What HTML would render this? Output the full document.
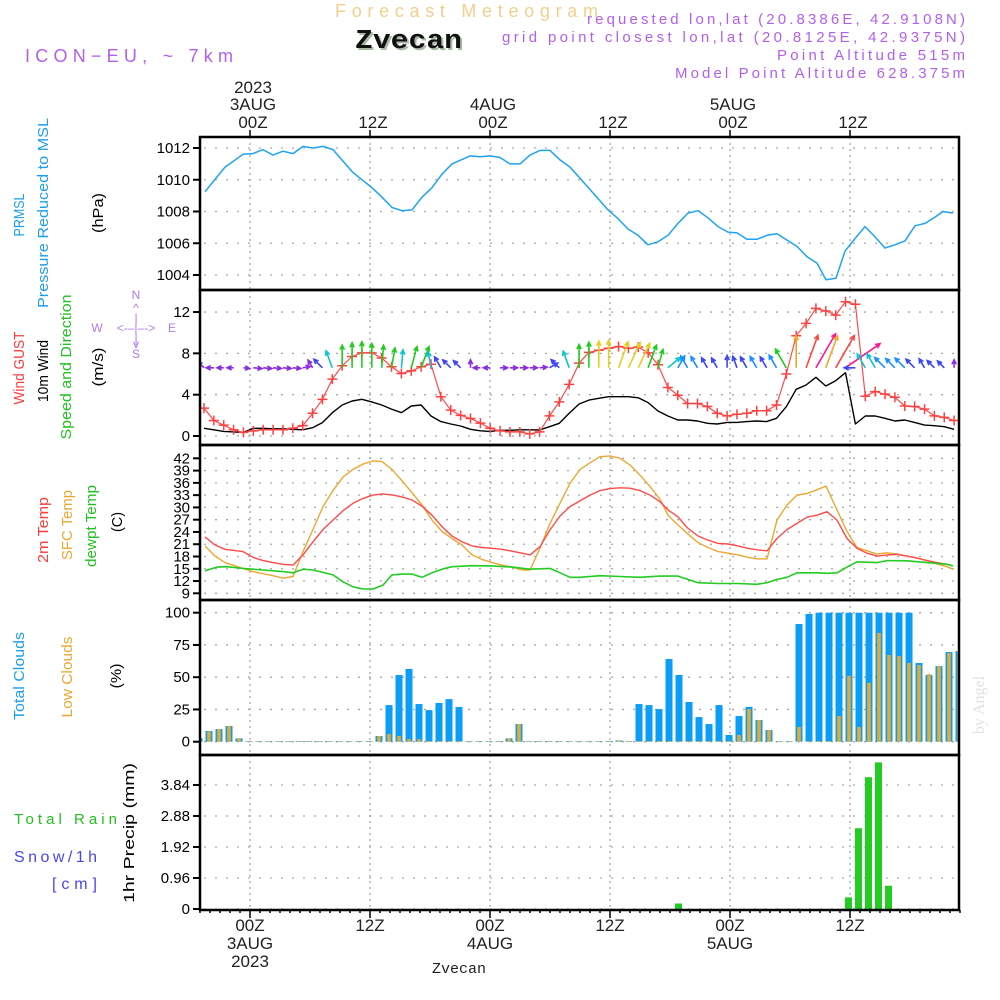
<!DOCTYPE html>
<html><head><meta charset="utf-8"><title>Forecast Meteogram Zvecan</title>
<style>
html,body{margin:0;padding:0;background:#fff;}
svg{display:block;font-family:"Liberation Sans",sans-serif;}
</style></head>
<body>
<svg id="chart" width="1000" height="1000" viewBox="0 0 1000 1000" xmlns="http://www.w3.org/2000/svg">
<defs><clipPath id="plotclip"><rect x="200" y="137" width="759" height="773"/></clipPath></defs>
<rect x="0" y="0" width="1000" height="1000" fill="#fff"/>
<text x="335" y="17" font-size="18" fill="#f2cf8e" textLength="263" lengthAdjust="spacing">Forecast Meteogram</text>
<text x="357" y="50" font-size="27" font-weight="bold" font-family="Liberation Mono, monospace" fill="#a9bba5" textLength="107" lengthAdjust="spacingAndGlyphs">Zvecan</text>
<text x="355" y="48" font-size="27" font-weight="bold" font-family="Liberation Mono, monospace" fill="#111" textLength="107" lengthAdjust="spacingAndGlyphs">Zvecan</text>
<text x="25" y="62" font-size="18" fill="#b25ff0" textLength="208" lengthAdjust="spacing">ICON−EU, ~ 7km</text>
<g fill="#b25ff0" font-size="15" text-anchor="end">
<text x="965" y="24" textLength="378" lengthAdjust="spacing">requested lon,lat (20.8386E, 42.9108N)</text>
<text x="965" y="42" textLength="463" lengthAdjust="spacing">grid point closest lon,lat (20.8125E, 42.9375N)</text>
<text x="965" y="60" textLength="188" lengthAdjust="spacing">Point Altitude 515m</text>
<text x="965" y="78" textLength="290" lengthAdjust="spacing">Model Point Altitude 628.375m</text>
</g>
<g font-size="15" text-anchor="middle">
<text transform="translate(24,215) rotate(-90)" fill="#1a9ef0" textLength="43" lengthAdjust="spacingAndGlyphs">PRMSL</text>
<text transform="translate(48,213) rotate(-90)" fill="#1a9ef0" textLength="190" lengthAdjust="spacingAndGlyphs">Pressure Reduced to MSL</text>
<text transform="translate(103,213) rotate(-90)" fill="#000" textLength="40" lengthAdjust="spacingAndGlyphs">(hPa)</text>
<text transform="translate(24,368) rotate(-90)" fill="#ff3b3b" textLength="73" lengthAdjust="spacingAndGlyphs">Wind GUST</text>
<text transform="translate(48,371) rotate(-90)" fill="#000" textLength="62" lengthAdjust="spacingAndGlyphs">10m Wind</text>
<text transform="translate(71,367) rotate(-90)" fill="#22c022" textLength="145" lengthAdjust="spacingAndGlyphs">Speed and Direction</text>
<text transform="translate(103,367) rotate(-90)" fill="#000" textLength="39" lengthAdjust="spacingAndGlyphs">(m/s)</text>
<text transform="translate(48,530) rotate(-90)" fill="#ff3b3b" textLength="66" lengthAdjust="spacingAndGlyphs">2m Temp</text>
<text transform="translate(72,525) rotate(-90)" fill="#eba830" textLength="70" lengthAdjust="spacingAndGlyphs">SFC Temp</text>
<text transform="translate(96,526) rotate(-90)" fill="#22c022" textLength="82" lengthAdjust="spacingAndGlyphs">dewpt Temp</text>
<text transform="translate(122,522) rotate(-90)" fill="#000" textLength="20" lengthAdjust="spacingAndGlyphs">(C)</text>
<text transform="translate(24,676) rotate(-90)" fill="#1a9ef0" textLength="88" lengthAdjust="spacingAndGlyphs">Total Clouds</text>
<text transform="translate(72,677) rotate(-90)" fill="#eba830" textLength="81" lengthAdjust="spacingAndGlyphs">Low Clouds</text>
<text transform="translate(121,676) rotate(-90)" fill="#000" textLength="25" lengthAdjust="spacingAndGlyphs">(%)</text>
<text transform="translate(134,833) rotate(-90)" fill="#000" textLength="140" lengthAdjust="spacingAndGlyphs">1hr Precip (mm)</text>
</g>
<text x="14" y="824" font-size="15" fill="#22c022" textLength="103" lengthAdjust="spacing">Total  Rain</text>
<text x="14" y="862" font-size="16" fill="#4646f0" textLength="83" lengthAdjust="spacing">Snow/1h</text>
<text x="52" y="889" font-size="16" fill="#4646f0" textLength="45" lengthAdjust="spacing">[cm]</text>
<g fill="#b07af0" font-size="12" text-anchor="middle">
<text x="136" y="299">N</text>
<text x="136" y="312">^</text>
<text x="136" y="322">|</text>
<text x="97" y="332">W</text>
<text x="136" y="332">&lt;-‒|‒-&gt;</text>
<text x="172" y="332">E</text>
<text x="136" y="343">|</text>
<text x="136" y="348">v</text>
<text x="136" y="358">S</text>
</g>
<text transform="translate(984,705) rotate(-90)" font-family="Liberation Serif, serif" font-size="16" fill="#dfe4df" text-anchor="middle">by Angel</text>
<text x="459" y="973" font-family="Liberation Mono, monospace" font-size="15" fill="#222" text-anchor="middle">Zvecan</text>
<g id="grid"></g>
<g id="marks" clip-path="url(#plotclip)"></g>
<g id="frames"></g>
<g id="axes"></g>
</svg>
<script>
// ---------- data ----------
const presHours = [-4.5,-2.5,-0.7,0.3,1.3,2.3,3.3,4.3,5.3,6.3,7.3,8.3,10.3,12.2,13.2,14.2,15.2,16.2,17.2,18.2,19.2,20.2,22,23,24,25,26,27,28,29,30,31,32,33,35.8,36.8,37.8,38.8,39.8,40.8,41.8,42.8,43.8,44.8,45.8,46.8,47.8,48.7,49.7,50.7,51.7,52.7,53.7,54.7,55.7,56.7,57.6,58.6,59.5,60.5,61.5,62.5,63.5,64.5,65.5,66.5,67.5,68.5,69.3,70.3];
const presValues = [1009.25,1010.8,1011.6,1011.65,1011.9,1011.55,1011.8,1011.65,1012.1,1012.0,1012.1,1011.9,1010.45,1009.5,1008.9,1008.25,1008.05,1008.1,1008.9,1009.5,1010.35,1011.0,1011.5,1011.45,1011.5,1011.4,1011.0,1011.0,1011.55,1011.85,1011.85,1011.25,1010.8,1010.1,1008.1,1007.55,1006.9,1006.5,1005.9,1006.1,1006.5,1007.25,1007.9,1008.05,1007.6,1007.05,1006.7,1006.65,1006.25,1006.25,1006.5,1006.6,1006.2,1005.8,1005.15,1004.75,1003.7,1003.8,1005.5,1006.3,1007.05,1006.4,1005.7,1005.9,1006.15,1007.1,1007.25,1007.65,1008.0,1007.9];
const presTicks = [1004,1006,1008,1010,1012];

const windStartHour = -4.6;
const windStepHours = 0.987;
const gustValues = [2.7,1.5,1.05,0.6,0.35,0.5,0.6,0.6,0.6,0.75,1.0,2.2,3.55,5.5,6.8,7.7,8.05,8.05,7.55,6.7,6.05,6.3,6.7,6.95,3.8,2.5,2.0,1.7,1.25,0.75,0.5,0.4,0.4,0.2,0.4,1.95,3.3,5.0,7.05,8.1,8.3,8.5,8.65,8.5,8.6,8.05,6.9,4.7,3.95,3.15,3.15,2.85,2.2,1.95,2.1,2.2,2.45,2.45,3.0,6.0,9.7,10.9,12.35,12.1,11.7,13.0,12.75,3.85,4.3,4.05,3.75,2.9,2.85,2.6,1.95,1.8,1.5];
const windValues = [0.75,0.6,0.45,0.4,0.35,0.75,0.75,0.7,0.7,0.65,0.6,0.8,1.3,2.26,3.0,3.39,3.55,3.3,3.0,2.6,2.26,2.9,3.0,1.94,1.39,1.16,0.97,0.65,0.5,0.45,0.55,0.55,0.6,0.6,0.58,0.9,1.23,2.2,3.1,3.48,3.65,3.8,3.8,3.8,3.7,3.23,2.42,1.94,1.55,1.55,1.45,1.23,1.16,1.32,1.32,1.39,1.45,1.39,1.71,2.84,4.52,4.94,5.68,4.84,5.35,6.13,1.16,1.94,1.94,1.71,1.45,1.55,1.32,1.06,1.0,0.9,0.65];
const windDirTo = [315,270,270,270,95,95,95,95,95,95,80,330,315,340,0,0,0,0,5,10,5,15,20,350,330,315,315,0,270,270,90,90,90,90,85,60,315,340,0,0,0,0,20,25,25,20,15,50,30,330,330,330,330,0,340,330,330,330,330,330,0,20,30,20,30,55,270,330,330,315,315,315,315,330,315,315,0];
const windTicks = [0,4,8,12];
const arrowBaseSpeed = 6.6;

const t2mHours = [-4.5,-3.5,-2.5,-0.7,0.3,1.3,2.3,3.3,4.3,5.3,6.3,7.3,8.3,9.3,10.3,11.3,12.3,13.3,14.3,15.3,16.2,17.2,18.2,19.2,20.2,21.2,22.2,23.2,24.2,25.2,26.2,27.2,28,29,30,31,32,33,34,35,36,37,38,39,40,41,41.8,42.8,43.7,44.8,45.8,46.8,47.8,48.8,49.8,50.8,51.7,52.7,53.7,54.7,55.7,56.7,57.7,58.7,59.7,60.7,61.7,62.7,63.7,64.7,65.7,66.7,67.7,68.7,69.7,70.3];
const t2mValues = [22.8,20.8,19.75,19.2,17.8,17.0,16.5,16.1,15.9,18.4,21.6,24.6,26.9,29.2,31.0,32.2,33.0,33.3,33.0,32.5,31.8,30.3,28.1,25.3,23.0,21.6,20.6,20.2,20.0,19.75,19.3,18.8,18.4,20.4,24.5,27.9,30.2,31.6,33.0,34.1,34.6,34.8,34.7,34.1,33.0,31.4,29.4,27.7,25.1,23.0,22.0,21.2,21.05,20.6,20.0,19.6,19.4,22.4,24.6,26.1,27.6,28.1,28.95,26.9,22.4,20.0,18.8,18.1,18.4,18.5,18.1,17.6,17.0,16.5,16.1,15.7];
const sfcHours = [-4.5,-3.5,-2.5,-0.7,0.3,2.3,3.3,4.3,5.3,6.3,7.3,8.3,9.3,10.3,11.3,12.3,13.2,14.2,15.2,16.2,17.2,18.2,19.2,20.2,21.2,22.2,23.2,24.2,25.2,26.2,27.2,28,29,30,31,32,33,34,35,36,37,38,39,40,41,41.8,42.8,43.7,44.8,45.8,46.8,47.8,48.8,49.8,50.8,51.7,52.7,53.7,54.7,55.7,56.7,57.6,58.7,59.7,60.7,61.7,62.7,63.7,64.7,65.7,66.7,67.7,68.7,69.7,70.3];
const sfcValues = [20.6,18.1,16.5,15.1,14.3,13.3,12.7,13.1,19.2,24.6,30.2,34.1,37.4,39.3,40.6,41.35,41.2,39.3,36.5,33.6,30.6,26.9,24.1,22.4,20.8,18.4,17.3,16.5,15.9,15.4,14.7,14.7,20.0,26.1,31.0,35.9,39.3,40.9,42.4,42.6,42.0,40.4,37.9,35.1,32.0,28.1,25.7,23.7,21.4,20.2,19.2,18.8,18.4,17.8,17.4,17.4,26.9,30.6,33.0,33.4,34.3,35.2,29.4,24.1,20.2,19.4,18.6,18.9,18.6,18.1,17.6,17.0,16.2,15.5,14.9];
const dewHours = [-4.5,-3.3,-2.3,-0.7,1.3,3.3,4.3,5.3,6.3,8.3,9.3,10.3,11.3,12.3,13.3,14.2,15.2,16.2,17.2,18.2,19.2,20.2,22.2,24.2,26.2,28,30,31,32,33,35,37,39,41,42.8,44.8,46.8,48.8,50.7,51.7,52.7,53.7,54.7,56.7,57.7,58.7,59.7,60.7,62.7,63.7,65.7,67.7,69.7,70.3];
const dewValues = [14.5,15.4,15.5,15.1,14.7,14.3,14.0,14.9,14.7,13.5,11.8,10.6,10.05,10.05,11.0,13.5,13.7,13.7,12.9,14.0,14.9,15.5,15.75,15.7,15.4,14.9,15.1,14.0,12.9,12.9,13.3,13.1,12.9,13.2,13.2,11.6,11.4,11.4,11.2,11.6,12.4,12.9,14.0,14.0,13.9,14.0,15.4,16.7,16.5,17.0,16.95,16.5,16.1,15.7];
const tempTicks = [9,12,15,18,21,24,27,30,33,36,39,42];

const cloudStartHour = -5;
const totalCloud = [2.6,8.3,9.8,12.2,2.6, 0.5,0.5,0.5,0.5,0.5,0.5,0.5,0.5,0.5,0.5,0.5,0.5,0.5, 4.4,28.4,51.7,56.4,29.2,24.5,30,33,26.9, 0.5,0.5,0.5,0.5, 2.6,13.7, 0.5,0.5,0.5,0.5,0.5,0.5,0.5,0.5,0.5, 1,0.5, 29.2,28.4,25.3,64.1,51.7,30.8,19.1,13.7,28.4,5.2,19.9,27,16.8,9.1, 0.5,0.5, 91.2,99, 100,100,100,100,100,100,100,100,100,100, 61,51.7,58.6,69.5,70.3];
const lowCloud = [2.6,8,9.8,12.2,2.6, 0.5,0.5,0.5,0.5,0.5,0.5,0.5,0.5,0.5,0.5,0.5,0.5,0.5, 4.4,6,4.4,2.1,2, 0.5,0.5,0.5,0.5, 0.5,0.5,0.5,0.5, 2.6,13.7, 0.5,0.5,0.5,0.5,0.5,0.5,0.5,0.5,0.5, 1,0.5, 0.5,0.5,0.5,0.5,0.5,0.5,0.5,0.5,0.5,0.5, 5.2,25.3,16.8,9.1, 0.5,0.5, 11.4,0.5,0.5,0.5,19.9,51,11.4,45.6,84.3,67.2,66.4,61,59.4,52.5,58.6,68.7,70.3];
const cloudTicks = [0,25,50,75,100];

const precipHours = [43,60,61,62,63,64];
const precipValues = [0.17,0.36,2.5,4.08,4.54,0.72];
const precipTicks = [0,0.96,1.92,2.88,3.84];

const topAxisHours = [0,12,24,36,48,60];
const topAxisLines = [["2023","3AUG","00Z"],["","","12Z"],["","4AUG","00Z"],["","","12Z"],["","5AUG","00Z"],["","","12Z"]];

// ---------- axes ----------
const PL = 200, PR = 959;
const xOf = h => 250 + 10*h;
const yP = p => 148 + (1012 - p) * 15.875;
const yW = v => 436 - v * 10.33;
const yT = t => 593.3 - (t - 9) * 4.09;
const yC = c => 741.7 - c * 1.29;
const yR = r => 909 - r * 32.3;
const panels = [[137,290],[290,445],[445,600],[600,755],[755,910]];

const NS = "http://www.w3.org/2000/svg";
const gGrid = document.getElementById('grid');
const gMarks = document.getElementById('marks');
const gFrames = document.getElementById('frames');
const gAxes = document.getElementById('axes');
function mk(tag, attrs, parent){
  const e = document.createElementNS(NS, tag);
  for (const k in attrs) e.setAttribute(k, attrs[k]);
  parent.appendChild(e);
  return e;
}

panels.forEach(p => {
  topAxisHours.forEach(h => {
    const e = mk('line', {x1:xOf(h), x2:xOf(h), y1:p[0], y2:p[1], stroke:'#a8a8a8', 'stroke-width':1.3, 'stroke-dasharray':'2,4'}, gGrid);
    
    
  });
});

function yAxis(ticks, yf, fmt, fontSize, gridOn){
  ticks.forEach(v => {
    const y = yf(v);
    if (gridOn) {
      const g = mk('line', {x1:PL+4, x2:PR, y1:y, y2:y, stroke:'#a8a8a8', 'stroke-width':1.3, 'stroke-dasharray':'2,9'}, gGrid);
      
      
    }
    const t = mk('line', {x1:193, x2:PL, y1:y, y2:y, stroke:'#000', 'stroke-width':2}, gAxes);
    
    
    const lb = mk('text', {x:190, y:y+5, 'font-size':fontSize, 'text-anchor':'end', fill:'#000'}, gAxes);
    lb.textContent = fmt(v);
    
    
  });
}
yAxis(presTicks, yP, v => String(v), 15, true);
yAxis(windTicks, yW, v => String(v), 15, true);
yAxis(tempTicks, yT, v => String(v), 15, true);
yAxis(cloudTicks, yC, v => String(v), 15, true);
yAxis(precipTicks, yR, v => v===0 ? "0" : v.toFixed(2), 15, true);

topAxisHours.forEach((h,i) => {
  const x = xOf(h);
  const tk = mk('line', {x1:x, x2:x, y1:130, y2:137, stroke:'#000', 'stroke-width':1.5}, gAxes);
  
  
  const lines = topAxisLines[i];
  [93,110,128].forEach((yy,j) => {
    if (!lines[j]) return;
    const t = mk('text', {x:x+3, y:yy, 'font-size':17, 'text-anchor':'middle', fill:'#222'}, gAxes);
    t.textContent = lines[j];
    
    
  });
  [[lines[2],931],[lines[1],949],[lines[0],967]].forEach(([s,yy]) => {
    if (!s) return;
    const t = mk('text', {x:x, y:yy, 'font-size':17, 'text-anchor':'middle', fill:'#222'}, gAxes);
    t.textContent = s;
    
    
  });
});
for (let h = -5; h <= 71; h++) {
  const x = xOf(h);
  const major = topAxisHours.includes(h);
  const tk = mk('line', {x1:x, x2:x, y1:910, y2:major ? 918 : 913, stroke:'#000', 'stroke-width':1.5}, gAxes);
  
  
}

panels.forEach(p => {
  const r = mk('rect', {x:PL, y:p[0], width:PR-PL, height:p[1]-p[0], fill:'none', stroke:'#000', 'stroke-width':2.5}, gFrames);
  
  
});

function polyline(hours, vals, yf, color, name, w){
  const n = Math.min(hours.length, vals.length);
  const pts = [];
  for (let i = 0; i < n; i++) pts.push(xOf(hours[i]).toFixed(1) + ',' + yf(vals[i]).toFixed(1));
  const e = mk('polyline', {points:pts.join(' '), fill:'none', stroke:color, 'stroke-width':w||1.4, 'stroke-linejoin':'round'}, gMarks);
  
  
  return e;
}

polyline(presHours, presValues, yP, '#1ea3f2', 'pressure-line', 1.5);

const windHours = windValues.map((_, i) => windStartHour + i * windStepHours);
polyline(windHours, windValues, yW, '#000', 'wind-speed-line', 1.4);
polyline(windHours, gustValues, yW, '#ff4a4a', 'gust-line', 1.2);
gustValues.forEach((v, i) => {
  const x = xOf(windStartHour + i * windStepHours), y = yW(v);
  const c = mk('path', {d:`M${x-5},${y}H${x+5}M${x},${y-5}V${y+5}`, stroke:'#ff4040', 'stroke-width':1.5}, gMarks);
  
  
});
function arrowColor(s){
  if (s < 0.9) return '#8a2be2';
  if (s < 1.45) return '#3c46f5';
  if (s < 1.8) return '#1a90ff';
  if (s < 2.4) return '#10c4d4';
  if (s < 3.6) return '#20cc20';
  if (s < 4.4) return '#e6cf20';
  if (s < 4.9) return '#f0a828';
  if (s < 5.5) return '#ff4545';
  return '#ff1890';
}
windValues.forEach((s, i) => {
  const x0 = xOf(windStartHour + i * windStepHours), y0 = yW(arrowBaseSpeed);
  const a = windDirTo[i] * Math.PI / 180;
  const L = 4 + s * 6.2;
  const x1 = x0 + Math.sin(a) * L, y1 = y0 - Math.cos(a) * L;
  const hl = 5, ha = 0.45;
  const back = Math.atan2(y0 - y1, x0 - x1);
  const hx1 = x1 + hl*Math.cos(back+ha), hy1 = y1 + hl*Math.sin(back+ha);
  const hx2 = x1 + hl*Math.cos(back-ha), hy2 = y1 + hl*Math.sin(back-ha);
  const col = arrowColor(s);
  const e = mk('path', {d:`M${x0.toFixed(1)},${y0.toFixed(1)}L${x1.toFixed(1)},${y1.toFixed(1)}M${hx1.toFixed(1)},${hy1.toFixed(1)}L${x1.toFixed(1)},${y1.toFixed(1)}L${hx2.toFixed(1)},${hy2.toFixed(1)}`, fill:'none', stroke:col, 'stroke-width':1.6}, gMarks);
  
  
});

polyline(sfcHours, sfcValues, yT, '#eba830', 'sfc-temp-line', 1.4);
polyline(t2mHours, t2mValues, yT, '#ff4a4a', 'temp-2m-line', 1.4);
polyline(dewHours, dewValues, yT, '#22cc22', 'dewpoint-line', 1.6);

totalCloud.forEach((v, i) => {
  const x = xOf(cloudStartHour + i) - 1;
  const b = mk('rect', {x:x-3.5, y:yC(v), width:7, height:yC(0)-yC(v), fill:'#0a9ef8'}, gMarks);
  
  
});
lowCloud.forEach((v, i) => {
  const x = xOf(cloudStartHour + i) - 1;
  const b = mk('rect', {x:x-1.8, y:yC(v), width:3.6, height:yC(0)-yC(v), fill:'#e8aa2c'}, gMarks);
  
  
});

precipHours.forEach((h, i) => {
  const x = xOf(h) - 1.5, v = precipValues[i];
  const b = mk('rect', {x:x-3.5, y:yR(v), width:7, height:yR(0)-yR(v), fill:'#22cc22'}, gMarks);
  
  
});
</script>
</body></html>
